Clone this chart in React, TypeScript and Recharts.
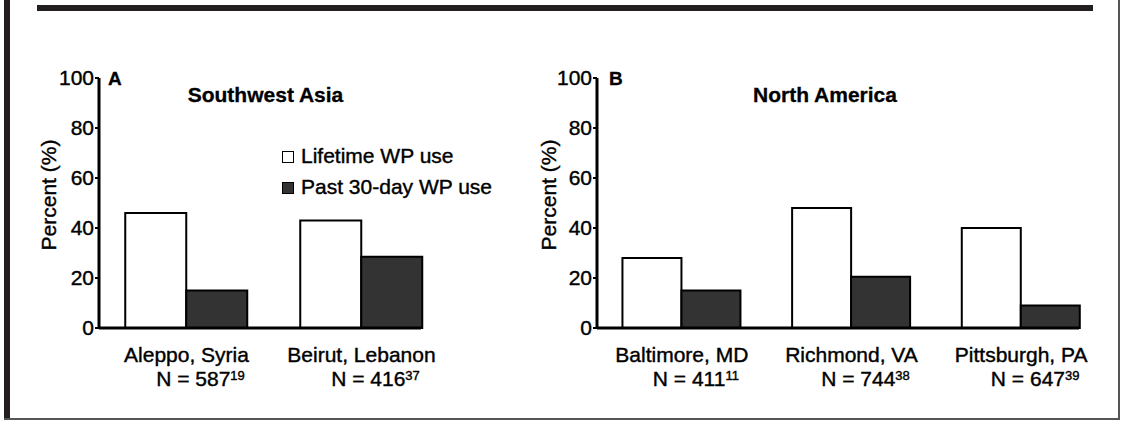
import React from "react";
import { BarChart, Bar, XAxis, YAxis, Legend } from "recharts";

const FONT = '"Liberation Sans", Arial, sans-serif';

// Panel A - Southwest Asia
const asiaCities = ["Aleppo, Syria", "Beirut, Lebanon"];
const asiaN = [587, 416];
const asiaRefs = [19, 37];
const asiaLifetime = [46, 43];
const asiaPast30 = [15, 28.5];

// Panel B - North America
const naCities = ["Baltimore, MD", "Richmond, VA", "Pittsburgh, PA"];
const naN = [411, 744, 647];
const naRefs = [11, 38, 39];
const naLifetime = [28, 48, 40];
const naPast30 = [15, 20.5, 9];

const yTicks = [0, 20, 40, 60, 80, 100];

const asiaData = asiaCities.map((city, i) => ({
  city,
  lifetime: asiaLifetime[i],
  past30: asiaPast30[i],
}));
const naData = naCities.map((city, i) => ({
  city,
  lifetime: naLifetime[i],
  past30: naPast30[i],
}));

// slightly heavier text, the scan looks darker than plain Liberation Sans
const heavy = { stroke: "#000", strokeWidth: 0.4 };

function CityTick(props: any) {
  const { x, y, payload, index, ns, refs } = props;
  return (
    <g fontFamily={FONT} fill="#000" {...heavy}>
      <text x={x} y={y + 34} textAnchor="middle" fontSize={21}>
        {payload.value}
      </text>
      <text x={x} y={y + 58} textAnchor="middle" fontSize={21}>
        <tspan dx={14}>N = {ns[index]}</tspan>
        <tspan fontSize={13} dy={-6}>{refs[index]}</tspan>
      </text>
    </g>
  );
}

function YLabel(props: any) {
  const vb = props.viewBox;
  const x = vb.x + 36;
  const y = vb.y + vb.height / 2 - 8;
  return (
    <text
      x={x}
      y={y}
      transform={`rotate(-90, ${x}, ${y})`}
      textAnchor="middle"
      fontSize={21}
      fill="#000"
      fontFamily={FONT}
      {...heavy}
    >
      Percent (%)
    </text>
  );
}

function LegendBox(props: any) {
  const { payload } = props;
  return (
    <div
      style={{
        fontSize: 21,
        lineHeight: "31px",
        whiteSpace: "nowrap",
        color: "#000",
        fontFamily: FONT,
        WebkitTextStroke: "0.4px #000",
      }}
    >
      {payload.map((e: any) => (
        <div key={e.value} style={{ display: "flex", alignItems: "center" }}>
          <span
            style={{
              display: "inline-block",
              width: 12,
              height: 12,
              marginTop: 3,
              boxSizing: "border-box",
              background: e.color,
              border: "1px solid #000",
              marginRight: 7,
            }}
          />
          {e.value}
        </div>
      ))}
    </div>
  );
}

const tickStyle = { fontSize: 21, fill: "#000", fontFamily: FONT, ...heavy };
const axisLine = { stroke: "#000", strokeWidth: 3 };

export default function App() {
  return (
    <div style={{ position: "absolute", left: 0, top: 0, width: 1121, height: 421, background: "#fff", fontFamily: FONT }}>
      <div style={{ position: "absolute", left: 0, top: 0 }}>
        <BarChart
          width={560}
          height={421}
          data={asiaData}
          margin={{ top: 78, right: 139, bottom: 33, left: 20 }}
          barCategoryGap="15%"
          barGap={0}
        >
          <XAxis
            dataKey="city"
            height={60}
            axisLine={axisLine}
            tickLine={false}
            tickSize={0}
            tickMargin={0}
            padding={{ left: 0, right: -28 }}
            interval={0}
            tick={(p: any) => <CityTick {...p} ns={asiaN} refs={asiaRefs} />}
          />
          <YAxis
            width={79}
            domain={[0, 100]}
            ticks={yTicks}
            interval={0}
            axisLine={axisLine}
            tickLine={{ stroke: "#000", strokeWidth: 2 }}
            tickSize={4}
            tickMargin={1}
            tick={tickStyle}
            label={YLabel}
          />
          <Legend
            layout="vertical"
            align="center"
            verticalAlign="middle"
            content={LegendBox}
            wrapperStyle={{ left: 282, top: 140, width: "auto", height: "auto" }}
          />
          <Bar dataKey="lifetime" name="Lifetime WP use" fill="#ffffff" stroke="#000" strokeWidth={2} isAnimationActive={false} />
          <Bar dataKey="past30" name="Past 30-day WP use" fill="#333333" stroke="#000" strokeWidth={2} isAnimationActive={false} />
        </BarChart>
      </div>

      <div style={{ position: "absolute", left: 500, top: 0 }}>
        <BarChart
          width={600}
          height={421}
          data={naData}
          margin={{ top: 78, right: 21, bottom: 33, left: 20 }}
          barCategoryGap="15%"
          barGap={0}
        >
          <XAxis
            dataKey="city"
            height={60}
            axisLine={axisLine}
            tickLine={false}
            tickSize={0}
            tickMargin={0}
            padding={{ left: 0, right: -27 }}
            interval={0}
            tick={(p: any) => <CityTick {...p} ns={naN} refs={naRefs} />}
          />
          <YAxis
            width={77}
            domain={[0, 100]}
            ticks={yTicks}
            interval={0}
            axisLine={axisLine}
            tickLine={{ stroke: "#000", strokeWidth: 2 }}
            tickSize={4}
            tickMargin={1}
            tick={tickStyle}
            label={YLabel}
          />
          <Bar dataKey="lifetime" name="Lifetime WP use" fill="#ffffff" stroke="#000" strokeWidth={2} isAnimationActive={false} />
          <Bar dataKey="past30" name="Past 30-day WP use" fill="#333333" stroke="#000" strokeWidth={2} isAnimationActive={false} />
        </BarChart>
      </div>

      <svg width={1121} height={421} style={{ position: "absolute", left: 0, top: 0, pointerEvents: "none" }}>
        <rect x={37} y={5} width={1056} height={6} fill="#231f20" />
        <rect x={4} y={0} width={6} height={419} fill="#231f20" />
        <rect x={4} y={418} width={1116} height={2} fill="#555" />
        <rect x={1118} y={0} width={2} height={420} fill="#555" />
        <g fontFamily={FONT} fontWeight="bold" fill="#000" stroke="#000" strokeWidth={0.3}>
          <text x={108} y={85} fontSize={19}>A</text>
          <text x={265.5} y={102} fontSize={21} textAnchor="middle">Southwest Asia</text>
          <text x={609} y={85} fontSize={19}>B</text>
          <text x={825} y={102} fontSize={21} textAnchor="middle">North America</text>
        </g>
      </svg>
    </div>
  );
}
